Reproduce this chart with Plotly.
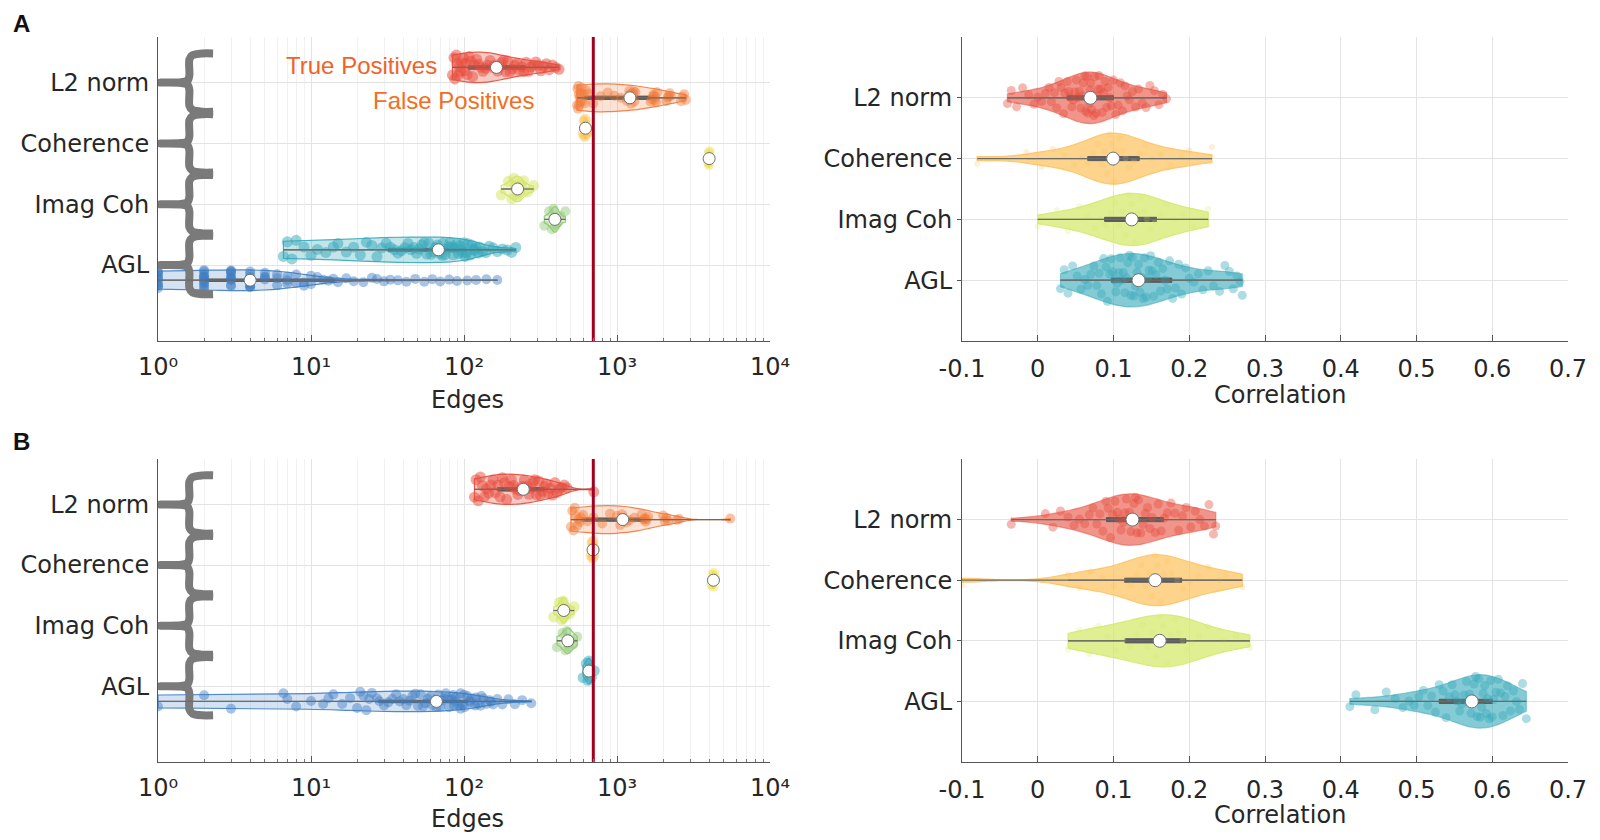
import numpy as np
import plotly.graph_objects as go

# ---------------- data ----------------
categories = ["L2 norm", "Coherence", "Imag Coh", "AGL"]
cat_pos = [1, 2, 3, 4]
edge_ticks = [1, 10, 100, 1000, 10000]
edge_ticktext = ["10\u2070", "10\u00b9", "10\u00b2", "10\u00b3", "10\u2074"]
corr_ticks = [-0.1, 0, 0.1, 0.2, 0.3, 0.4, 0.5, 0.6, 0.7]
corr_ticktext = ["-0.1", "0", "0.1", "0.2", "0.3", "0.4", "0.5", "0.6", "0.7"]
threshold_edges = 700

# Panel A, Edges (True Positives / False Positives)
A_L2_TP = [84, 86, 87, 89, 90, 92, 93, 95, 97, 99, 101, 103, 105, 108, 111, 114, 117, 121, 125, 129,
           133, 138, 143, 148, 154, 160, 166, 172, 176, 181, 187, 193, 200, 207, 214, 222, 230, 238,
           246, 255, 264, 274, 284, 295, 306, 318, 331, 345, 360, 378, 398, 418]
A_L2_FP = [548, 552, 556, 559, 562, 566, 570, 575, 581, 588, 596, 605, 616, 630, 648,
           700, 780, 870, 960, 1060,
           1160, 1180, 1195, 1205, 1215, 1225, 1240, 1255, 1270, 1285, 1300, 1320,
           1660, 1690, 1720, 1740, 1760, 1780, 1800, 1830,
           2100, 2150, 2180, 2210, 2250,
           2620, 2680, 2750, 2820]
A_Coh_TP = [602, 610, 616, 620, 624, 628, 634, 642]
A_Coh_FP = [3940, 3975, 4000, 4025, 4060]
A_Img_TP = [175, 195, 205, 212, 218, 222, 226, 230, 236, 245, 260, 285]
A_Img_FP = [335, 360, 375, 385, 390, 395, 400, 410, 425, 460]
A_AGL_TP = [6.6, 7, 7.5, 8, 9, 10, 11, 12.5, 14, 15, 17, 19, 21, 23, 25, 27, 29, 31, 33, 35,
            37, 39, 41, 43, 45, 47, 49, 51, 53, 55, 57, 59, 61, 63, 65, 67, 69, 71, 72, 73,
            75, 78, 80, 81, 84, 85, 87, 90, 92, 94, 96, 98, 100, 102, 104, 106, 110, 112, 115,
            118, 120, 124, 126, 132, 139, 146, 155, 165, 178, 192, 205, 218]
A_AGL_FP = [1, 1, 1, 1, 1, 1, 1, 1, 1, 1,
            2, 2, 2, 2, 2, 2, 2, 2, 2, 2, 2, 2,
            3, 3, 3, 3, 3, 3, 3, 3, 3, 3,
            4, 4, 4, 4, 4, 4, 4, 4, 4,
            5, 5, 5, 5, 6, 6, 6, 7, 7, 7, 8, 8, 9, 9, 10, 10,
            11, 12, 13, 14, 15, 17, 19, 22, 25, 27, 30, 33, 37, 42, 48, 55, 62, 70, 80, 90,
            105, 120, 140, 165]

# Panel B, Edges
B_L2_TP = [117, 120, 124, 128, 132, 136, 140, 145, 150, 155, 160, 166, 172, 178, 184, 190, 197,
           204, 211, 218, 225, 232, 240, 248, 253, 258, 266, 274, 282, 290, 298, 307, 316, 325,
           335, 345, 356, 368, 380, 393, 406, 420, 435, 452, 470, 705]
B_L2_FP = [500, 510, 520, 530, 540, 550, 560, 570, 580, 600, 640, 700, 800, 900, 1000,
           1050, 1070, 1080, 1100, 1120, 1150, 1200, 1300, 1450, 1500, 1520, 1540, 1560,
           1600, 2000, 2050, 2100, 2150, 2450, 2550, 5500]
B_Coh_TP = [680, 688, 693, 697, 700, 705, 712]
B_Coh_FP = [4150, 4220, 4270, 4300, 4380]
B_Img_TP = [385, 420, 435, 445, 449, 455, 465, 490, 525]
B_Img_FP = [405, 440, 460, 470, 477, 485, 500, 520, 550]
B_AGL_TP = [600, 630, 645, 655, 665, 680, 710]
B_AGL_FP = [1, 2, 3, 6.6, 7, 8, 10, 12, 13, 14, 16, 18, 20, 21, 22, 23, 24, 25, 27, 28,
            30, 32, 34, 36, 38, 40, 42, 44, 46, 48, 50, 52, 54, 56, 58, 60, 62, 64, 66, 68,
            70, 72, 74, 76, 78, 80, 83, 85, 86, 88, 89, 92, 95, 95, 98, 100, 101, 105, 109,
            110, 113, 118, 120, 123, 128, 130, 134, 140, 147, 150, 155, 165, 178, 195, 215,
            240, 275]

# Panel A, Correlation
RA_L2 = [-0.040, -0.035, -0.028, -0.020, -0.012, -0.005, 0.000, 0.005, 0.010, 0.015, 0.018,
         0.022, 0.025, 0.028, 0.031, 0.034, 0.036, 0.039, 0.041, 0.043, 0.045, 0.047, 0.049,
         0.051, 0.053, 0.055, 0.057, 0.059, 0.060, 0.062, 0.063, 0.065, 0.066, 0.068, 0.069,
         0.070, 0.071, 0.072, 0.074, 0.075, 0.077, 0.078, 0.080, 0.081, 0.083, 0.085, 0.087,
         0.089, 0.091, 0.093, 0.095, 0.097, 0.100, 0.103, 0.106, 0.109, 0.112, 0.115, 0.118,
         0.121, 0.125, 0.129, 0.133, 0.138, 0.143, 0.148, 0.154, 0.160, 0.165, 0.170]
RA_Coh = [-0.080, -0.015, 0.005, 0.020, 0.035, 0.048, 0.058, 0.066, 0.073, 0.079, 0.084, 0.088,
          0.092, 0.095, 0.098, 0.101, 0.104, 0.108, 0.112, 0.116, 0.121, 0.127, 0.134, 0.142,
          0.151, 0.162, 0.175, 0.190, 0.200, 0.230]
RA_Img = [0.000, 0.025, 0.040, 0.055, 0.065, 0.075, 0.083, 0.090, 0.096, 0.102, 0.107, 0.112,
          0.116, 0.120, 0.124, 0.128, 0.132, 0.136, 0.140, 0.144, 0.149, 0.155, 0.162, 0.170,
          0.180, 0.192, 0.205, 0.218, 0.225]
RA_AGL = [0.030, 0.035, 0.040, 0.046, 0.052, 0.057, 0.062, 0.066, 0.070, 0.074, 0.078, 0.081,
          0.084, 0.087, 0.090, 0.092, 0.095, 0.097, 0.099, 0.101, 0.103, 0.105, 0.107, 0.109,
          0.111, 0.113, 0.115, 0.117, 0.119, 0.121, 0.123, 0.125, 0.127, 0.129, 0.131, 0.133,
          0.135, 0.137, 0.139, 0.141, 0.143, 0.145, 0.147, 0.149, 0.151, 0.153, 0.156, 0.159,
          0.162, 0.165, 0.168, 0.171, 0.174, 0.178, 0.182, 0.186, 0.190, 0.195, 0.200, 0.206,
          0.212, 0.218, 0.225, 0.232, 0.240, 0.247, 0.253, 0.258, 0.263, 0.267, 0.270]

# Panel B, Correlation
RB_L2 = [-0.035, 0.010, 0.020, 0.030, 0.040, 0.048, 0.055, 0.062, 0.068, 0.073, 0.078, 0.082,
         0.086, 0.090, 0.093, 0.096, 0.099, 0.102, 0.105, 0.108, 0.110, 0.113, 0.115, 0.117,
         0.119, 0.121, 0.123, 0.125, 0.127, 0.129, 0.131, 0.133, 0.136, 0.139, 0.142, 0.145,
         0.148, 0.151, 0.155, 0.159, 0.163, 0.167, 0.171, 0.176, 0.181, 0.186, 0.191, 0.196,
         0.202, 0.208, 0.214, 0.220, 0.226, 0.232, 0.235]
RB_Coh = [-0.100, 0.040, 0.055, 0.070, 0.085, 0.100, 0.112, 0.122, 0.130, 0.137, 0.142, 0.147,
          0.151, 0.155, 0.158, 0.162, 0.166, 0.171, 0.177, 0.184, 0.192, 0.201, 0.212, 0.225,
          0.240, 0.248, 0.270]
RB_Img = [0.040, 0.055, 0.068, 0.080, 0.092, 0.103, 0.113, 0.122, 0.130, 0.138, 0.145, 0.151,
          0.156, 0.161, 0.166, 0.171, 0.176, 0.181, 0.186, 0.191, 0.197, 0.204, 0.213, 0.225,
          0.245, 0.262, 0.280]
RB_AGL = [0.412, 0.420, 0.445, 0.460, 0.472, 0.482, 0.490, 0.497, 0.503, 0.509, 0.515, 0.520,
          0.525, 0.530, 0.535, 0.539, 0.543, 0.547, 0.551, 0.554, 0.557, 0.560, 0.563, 0.566,
          0.568, 0.570, 0.572, 0.574, 0.576, 0.578, 0.580, 0.582, 0.584, 0.586, 0.588, 0.590,
          0.592, 0.594, 0.596, 0.598, 0.600, 0.602, 0.605, 0.608, 0.611, 0.614, 0.617, 0.620,
          0.624, 0.628, 0.632, 0.636, 0.640, 0.645]

# ---------------- styles ----------------
C_RED = (231, 76, 60)
C_ORANGE = (241, 121, 58)
C_COH_TP = (250, 196, 86)
C_COH_FP = (238, 222, 70)
C_IMG_TP = (210, 228, 92)
C_IMG_FP = (140, 200, 110)
C_TEAL = (52, 168, 186)
C_BLUE = (61, 125, 196)
GRAY = "#6b6b6b"
FONT = "DejaVu Sans"


def rgba(c, a):
    return "rgba(%d,%d,%d,%.2f)" % (c[0], c[1], c[2], a)


fig = go.Figure()


def add_violin(vals, pos, col, xa, ya, width, fill_a, line_a, msize, mop, jitter, dot=11, box_w=0.12):
    fig.add_trace(go.Violin(
        x=vals, y0=pos, orientation="h", width=width, side="both", spanmode="hard",
        scalemode="width", points="all", pointpos=0, jitter=jitter,
        fillcolor=rgba(col, fill_a), line=dict(color=rgba(col, line_a), width=1.2),
        marker=dict(color=rgba(col, 1), size=msize, opacity=mop, line=dict(width=0)),
        box=dict(visible=True, width=box_w, fillcolor="#5c5c5c", line=dict(color="#5c5c5c", width=1)),
        meanline=dict(visible=False), xaxis=xa, yaxis=ya, showlegend=False, hoverinfo="skip"))
    fig.add_trace(go.Scatter(
        x=[min(vals), max(vals)], y=[pos, pos], mode="lines", line=dict(color=GRAY, width=1.2),
        xaxis=xa, yaxis=ya, showlegend=False, hoverinfo="skip"))
    fig.add_trace(go.Scatter(
        x=[float(np.median(vals))], y=[pos], mode="markers",
        marker=dict(color="white", size=dot, line=dict(color="#707070", width=1)),
        xaxis=xa, yaxis=ya, showlegend=False, hoverinfo="skip"))


def add_brace(c, xa, ya):
    # brace shape in decades from the left edge (log axis) and category units
    us = [0.36, 0.29, 0.225, 0.205, 0.205, 0.195, 0.15, 0.015, 0.15, 0.195, 0.205, 0.205, 0.225, 0.29, 0.36]
    dy = [-0.48, -0.48, -0.45, -0.38, -0.12, -0.04, -0.006, 0.0, 0.006, 0.04, 0.12, 0.38, 0.45, 0.48, 0.48]
    fig.add_trace(go.Scatter(
        x=[10 ** u for u in us], y=[c + d for d in dy], mode="lines",
        line=dict(color="#7a7a7a", width=8, shape="spline", smoothing=0.8),
        xaxis=xa, yaxis=ya, showlegend=False, hoverinfo="skip"))


edge_sets = {
    ("x", "y"): [(A_L2_TP, A_L2_FP, C_RED, C_ORANGE),
                 (A_Coh_TP, A_Coh_FP, C_COH_TP, C_COH_FP),
                 (A_Img_TP, A_Img_FP, C_IMG_TP, C_IMG_FP),
                 (A_AGL_TP, A_AGL_FP, C_TEAL, C_BLUE)],
    ("x3", "y3"): [(B_L2_TP, B_L2_FP, C_RED, C_ORANGE),
                   (B_Coh_TP, B_Coh_FP, C_COH_TP, C_COH_FP),
                   (B_Img_TP, B_Img_FP, C_IMG_TP, C_IMG_FP),
                   (B_AGL_TP, B_AGL_FP, C_TEAL, C_BLUE)],
}
edge_widths = [(0.5, 0.46), (0.36, 0.28), (0.42, 0.42), (0.42, 0.34)]

for (xa, ya), sets in edge_sets.items():
    for c in cat_pos:
        add_brace(c, xa, ya)
    for i, (tp, fp, ctp, cfp) in enumerate(sets):
        c = cat_pos[i]
        wtp, wfp = edge_widths[i]
        add_violin(tp, c - 0.25, ctp, xa, ya, wtp, 0.3, 0.9, 11, 0.5, 1.0, dot=12)
        add_violin(fp, c + 0.25, cfp, xa, ya, wfp, 0.22, 0.9, 10, 0.45, 1.0, dot=12)
    fig.add_trace(go.Scatter(
        x=[threshold_edges, threshold_edges], y=[0.25, 5.25], mode="lines",
        line=dict(color="#A3001E", width=3), xaxis=xa, yaxis=ya, showlegend=False, hoverinfo="skip"))

corr_sets = {
    ("x2", "y2"): [RA_L2, RA_Coh, RA_Img, RA_AGL],
    ("x4", "y4"): [RB_L2, RB_Coh, RB_Img, RB_AGL],
}
corr_cols = [C_RED, (253, 196, 100), (212, 234, 110), C_TEAL]
corr_style = [(0.6, 0.5, 9, 0.4, 0.85), (0.75, 0.9, 6, 0.25, 0.84), (0.75, 0.9, 6, 0.25, 0.86),
              (0.6, 0.5, 9, 0.4, 0.88)]
for (xa, ya), sets in corr_sets.items():
    for i, vals in enumerate(sets):
        fa, la, ms, mo, w = corr_style[i]
        add_violin(vals, cat_pos[i], corr_cols[i], xa, ya, w, fa, la, ms, mo, 1.0, dot=13, box_w=0.08)

# ---------------- layout ----------------
# the page body adds an 8px margin, so the figure is 1584x824 and target pixels are shifted by 8
OFF = 8
W, H = 1600 - 2 * OFF, 840 - 2 * OFF


def px(x):
    return (x - OFF) / W


def py(y):
    return 1 - (y - OFF) / H


LX = [px(158), px(770)]
RX = [px(962), px(1568)]
TY = [py(341), py(37)]
BY = [py(762), py(459)]

minor_vals = [d * 10 ** e for e in range(4) for d in range(2, 10)]
tickfont = dict(family=FONT, size=24, color="#262626")

log_axis = dict(type="log", range=[0, 4], tickmode="array", tickvals=edge_ticks, ticktext=edge_ticktext,
                showgrid=True, gridcolor="#E3E3E3", gridwidth=1, showline=True, linecolor="#555555",
                linewidth=1, ticks="inside", ticklen=6, tickcolor="#555555", tickfont=tickfont,
                zeroline=False, ticklabelstandoff=4, automargin=False,
                minor=dict(tickmode="array", tickvals=minor_vals, showgrid=True, gridcolor="#F1F1F1",
                           ticks="inside", ticklen=3, tickcolor="#777777"))
lin_axis = dict(range=[-0.1, 0.7], tickmode="array", tickvals=corr_ticks, ticktext=corr_ticktext,
                showgrid=True, gridcolor="#E3E3E3", showline=True, linecolor="#555555", linewidth=1,
                ticks="inside", ticklen=6, tickcolor="#555555", tickfont=tickfont, zeroline=False,
                ticklabelstandoff=6, automargin=False)
cat_axis_l = dict(range=[5.25, 0.25], tickmode="array", tickvals=cat_pos, ticktext=categories,
                  showgrid=True, gridcolor="#E3E3E3", showline=True, linecolor="#555555", linewidth=1,
                  ticks="", tickfont=tickfont, zeroline=False, ticklabelstandoff=3, automargin=False)
cat_axis_r = dict(range=[5, 0], tickmode="array", tickvals=cat_pos, ticktext=categories,
                  showgrid=True, gridcolor="#E3E3E3", showline=True, linecolor="#555555", linewidth=1,
                  ticks="outside", ticklen=4, tickcolor="#555555", tickfont=tickfont, zeroline=False,
                  ticklabelstandoff=0, automargin=False)

fig.update_layout(
    width=W, height=H, autosize=False, margin=dict(l=0, r=0, t=0, b=0),
    paper_bgcolor="white", plot_bgcolor="white", violinmode="overlay",
    violingap=0, violingroupgap=0,
    xaxis=dict(domain=LX, anchor="y", **log_axis),
    yaxis=dict(domain=TY, anchor="x", **cat_axis_l),
    xaxis2=dict(domain=RX, anchor="y2", **lin_axis),
    yaxis2=dict(domain=TY, anchor="x2", **cat_axis_r),
    xaxis3=dict(domain=LX, anchor="y3", **log_axis),
    yaxis3=dict(domain=BY, anchor="x3", **cat_axis_l),
    xaxis4=dict(domain=RX, anchor="y4", **lin_axis),
    yaxis4=dict(domain=BY, anchor="x4", **cat_axis_r),
)

ann = []
for txt, x, y in [("A", 11, 23), ("B", 11, 441)]:
    ann.append(dict(text="<b>%s</b>" % txt, x=px(x), y=py(y), xref="paper", yref="paper", xanchor="left",
                    yanchor="middle", showarrow=False, font=dict(family="Liberation Sans", size=24, color="#111")))
for txt, x, y in [("Edges", 467, 400), ("Edges", 467, 819),
                  ("Correlation", 1280, 395), ("Correlation", 1280, 815)]:
    ann.append(dict(text=txt, x=px(x), y=py(y), xref="paper", yref="paper", xanchor="center", yanchor="middle",
                    showarrow=False, font=dict(family=FONT, size=24, color="#262626")))
ann.append(dict(text="True Positives", x=(439 - 158) / 612, y=0.72, xref="x domain", yref="y",
                xanchor="right", yanchor="middle", showarrow=False,
                font=dict(family="Liberation Sans", size=24, color="#F0622A")))
ann.append(dict(text="False Positives", x=(536 - 158) / 612, y=1.29, xref="x domain", yref="y",
                xanchor="right", yanchor="middle", showarrow=False,
                font=dict(family="Liberation Sans", size=24, color="#F36E22")))
fig.update_layout(annotations=ann)

fig.write_html("out.html")
